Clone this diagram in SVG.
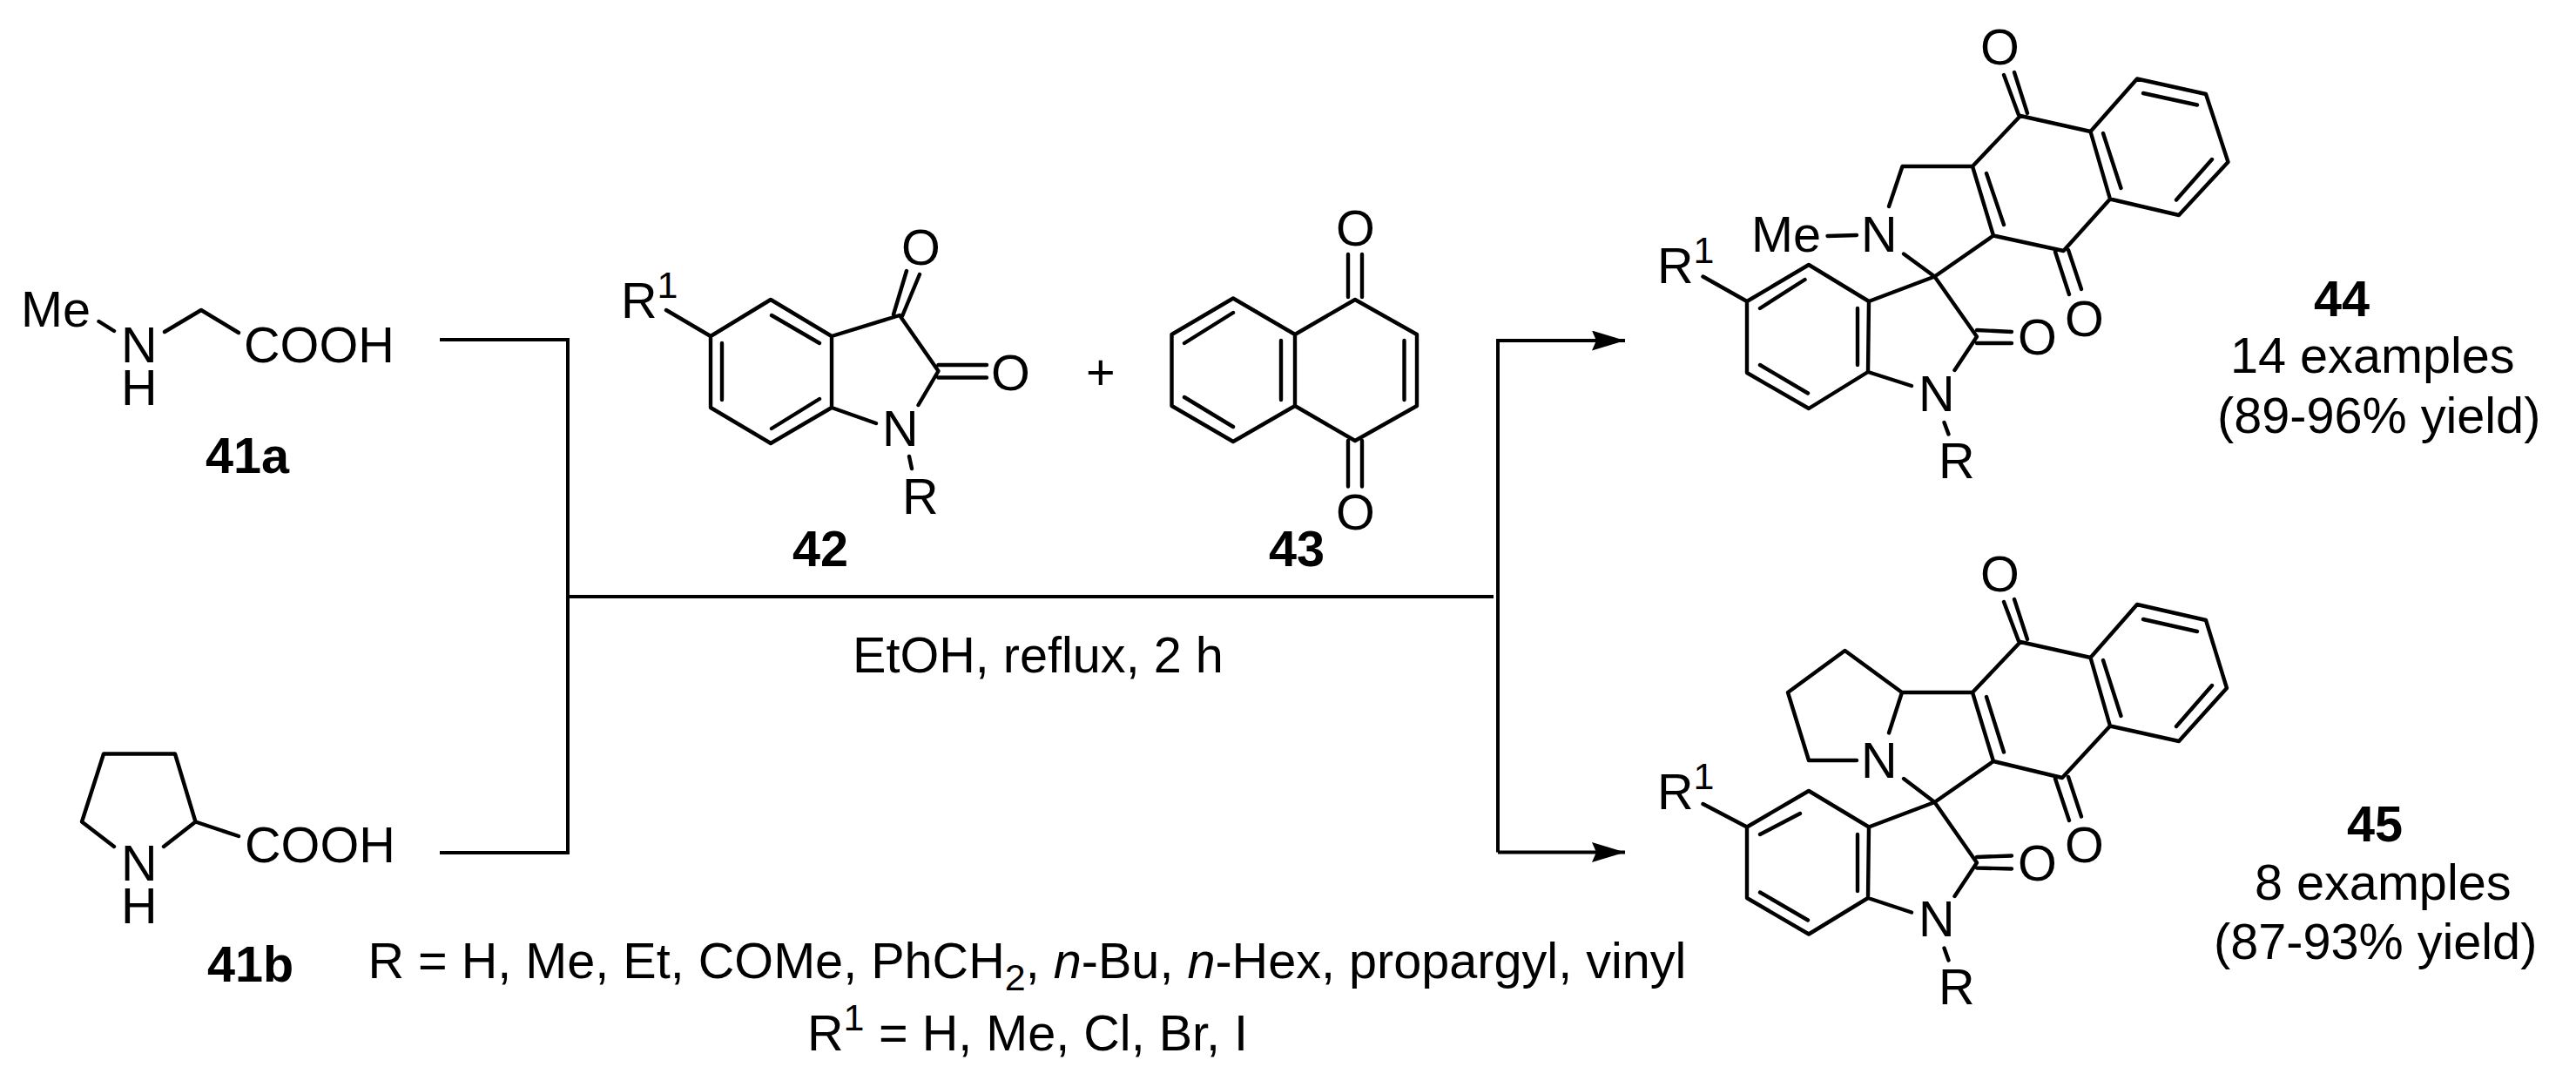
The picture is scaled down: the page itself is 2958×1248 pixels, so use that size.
<svg xmlns="http://www.w3.org/2000/svg" width="2958" height="1248" viewBox="0 0 2958 1248">
<style>
text{font-family:"Liberation Sans",Arial,sans-serif;font-size:57.6px;fill:#000}
.b{font-weight:bold}
.s{font-size:43px}
.i{font-style:italic}
.bond,.conn{fill:none;stroke:#000;stroke-width:4.400;stroke-linejoin:round;stroke-linecap:round}
.conn{stroke-width:4;stroke-linecap:butt;stroke-linejoin:miter}
</style>
<defs>
<marker id="arrow" markerUnits="userSpaceOnUse" markerWidth="40" markerHeight="24" refX="38" refY="11.500" orient="auto">
<path d="M38 11.500L0 0L5 11.500L0 23Z" fill="#000"/>
</marker>
</defs>
<rect width="2958" height="1248" fill="#fff"/>
<g id="connectors">
<path class="conn" d="M505 390H652V979H505"/>
<path class="conn" d="M652 685H1715"/>
<path class="conn" d="M1720 978.500V391H1866" marker-end="url(#arrow)"/>
<path class="conn" d="M1720 978.500H1866" marker-end="url(#arrow)"/>
</g>
<g id="n41a">
<path class="bond" d="M113.500 369L131 380M189 381L231 356L274 382"/>
<text x="24" y="375">Me</text>
<text x="139" y="416">N<tspan x="139" dy="49">H</tspan></text>
<text x="280" y="416">COOH</text>
<text class="b" x="236" y="543">41a</text>
</g>
<g id="n41b">
<path class="bond" d="M131 972L94 943.500L119 865.500H201L224.500 943.500L188 972M224.500 943.500L274 960"/>
<text x="139" y="1011">N<tspan x="139" dy="49">H</tspan></text>
<text x="281" y="990">COOH</text>
<text class="b" x="238" y="1127">41b</text>
</g>
<g id="n42">
<path class="bond" d="M816 386L885 344L955 386V468L885 509L816 468ZM765 356L816 386M829 394V459M886 362L941 394M941 458L886 492M955 386L1033 362L1077.500 426L1054.500 465M955 468L1006 486M1026 361L1041 311M1036 363L1056 315M1077.500 419H1133M1077.500 433.500H1133M1044 524L1047 538"/>
<text x="713" y="365">R<tspan class="s" dy="-23">1</tspan></text>
<text x="1035" y="304">O</text>
<text x="1138" y="448">O</text>
<text x="1013" y="512">N</text>
<text x="1036" y="590">R</text>
<text class="b" x="910" y="650">42</text>
</g>
<text id="plus" x="1247" y="447">+</text>
<g id="n43">
<path class="bond" d="M1416 342.500L1487 384L1556 344L1627 384V466L1556 506L1487 466L1416 507L1345.500 466V384ZM1487 384V466M1471 391V459M1612.500 391V459M1416 359L1360 394M1360 456L1416 490M1548 341V292M1564 341V292M1548 506V558.500M1564 506V558.500"/>
<text x="1534" y="282">O</text>
<text x="1534" y="608">O</text>
<text class="b" x="1457" y="650">43</text>
</g>
<text id="conditions" x="979" y="772">EtOH, reflux, 2 h</text>
<g id="scope">
<text x="422.500" y="1123">R = H, Me, Et, COMe, PhCH<tspan class="s" dy="14">2</tspan><tspan dy="-14">, </tspan><tspan class="i">n</tspan>-Bu, <tspan class="i">n</tspan>-Hex, propargyl, vinyl</text>
<text x="927" y="1206">R<tspan class="s" dy="-23">1</tspan><tspan x="1009" dy="23">= H, Me, Cl, Br, I</tspan></text>
</g>
<g id="n44">
<path class="bond" d="M2146 346L2077 304L2006 346V428L2077 469L2145 427ZM1955.500 317.500L2006 346M2021 354L2072.500 321M2133 354V419M2021 419L2076 451.500M2146 346L2221.500 317.500L2289 270.500L2265 191L2320 133L2400.500 151L2454 90.500L2533 108L2558.500 186L2502 247L2423 228.500L2369.500 288L2289 270.500M2400.500 151L2423 228.500M2415 153L2435.500 216M2461 107L2523 120.500M2540 183L2499 229.500M2281 199L2301 258M2301 86L2318 132M2313 83L2328 130M2360 289L2376 338M2375 287L2390 332M2265 191H2184.500L2169 237M2186 291.500L2221.500 317.500L2270 386.500L2244.500 425M2270 379L2310 381M2270 394H2310M2145 427L2195 443M2098.500 271L2132 270M2232.500 485L2237.500 498.500"/>
<text x="2274" y="74">O</text>
<text x="2371" y="386">O</text>
<text x="2317" y="407">O</text>
<text x="2011" y="289">Me</text>
<text x="2137" y="289">N</text>
<text x="2203" y="472">N</text>
<text x="2226" y="549">R</text>
<text x="1903" y="325">R<tspan class="s" dy="-23">1</tspan></text>
<text class="b" x="2657" y="363">44</text>
<text x="2561" y="428">14 examples</text>
<text x="2546" y="497">(89-96% yield)</text>
</g>
<g id="n45">
<path class="bond" d="M2146 949.500L2077 908L2006 949.500V1031L2077 1072.500L2145 1031ZM1955.500 923L2006 949.500M2021 958L2067 934M2133 958V1023M2021 1024.500L2076 1056.500M2146 949.500L2221.500 921L2289 874L2265 795L2320 737L2400.500 755L2454 694L2533 712L2557 790L2502 851L2423 833.500L2368 893L2289 874M2400.500 755L2423 833.500M2415 758L2435.500 822M2461 711L2523 725M2540 787L2499 834M2281 800L2301 863.500M2301 691L2318 736M2313 688L2328 734M2360 894L2376 942M2375 892L2390 937.500M2265 795H2184L2169 841.500M2184 795L2118.500 747L2053 795L2077 873H2132M2186 894L2221.500 921L2270 990.500L2244.500 1029M2270 984L2310 982.500M2270 996.500L2310 997.500M2145 1031L2195 1047.500M2232.500 1088.500L2237.500 1102.500"/>
<text x="2274" y="679">O</text>
<text x="2371" y="990">O</text>
<text x="2317" y="1011">O</text>
<text x="2137" y="893">N</text>
<text x="2203" y="1075">N</text>
<text x="2226" y="1153">R</text>
<text x="1903" y="929">R<tspan class="s" dy="-23">1</tspan></text>
<text class="b" x="2695" y="966">45</text>
<text x="2589" y="1033">8 examples</text>
<text x="2542" y="1101">(87-93% yield)</text>
</g>
</svg>
